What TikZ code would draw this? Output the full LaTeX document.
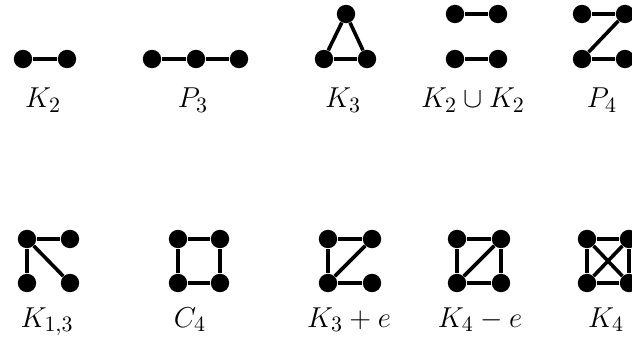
\documentclass[tikz,border=0pt]{standalone}
\usepackage{amsmath}
\usepackage{amssymb}
\usetikzlibrary{positioning}

\begin{document}
\begin{tikzpicture}[x=0.5pt, y=-0.5pt,
        dot/.style={circle, fill=black, inner sep=0pt, minimum size=9.2pt},
        edge/.style={line width=1.8pt},
        lab/.style={anchor=base, inner sep=0pt, font=\fontsize{15.5}{18}\selectfont}
    ]

    \useasboundingbox (0,0) rectangle (632,342);

    % top row
    \node[dot] (k2a) at ( 23, 59) {};
    \node[dot] (k2b) at ( 67, 59) {};
    \node[lab] at (43,108) {$K_2$};
    \draw[edge] (k2a) -- (k2b);

    \node[dot] (p3a) at (152, 59) {};
    \node[dot] (p3b) at (196, 59) {};
    \node[dot] (p3c) at (239, 59) {};
    \node[lab] at (193,108) {$P_3$};
    \draw[edge] (p3a) -- (p3b);
    \draw[edge] (p3b) -- (p3c);

    \node[dot] (k3a) at (346, 14) {};
    \node[dot] (k3b) at (324, 59) {};
    \node[dot] (k3c) at (367, 59) {};
    \node[lab] at (343,108) {$K_3$};
    \draw[edge] (k3a) -- (k3b);
    \draw[edge] (k3b) -- (k3c);
    \draw[edge] (k3c) -- (k3a);

    \node[dot] (uua) at (455, 14) {};
    \node[dot] (uub) at (498, 14) {};
    \node[dot] (uuc) at (455, 59) {};
    \node[dot] (uud) at (498, 59) {};
    \node[lab] at (473,108) {$K_2 \cup K_2$};
    \draw[edge] (uua) -- (uub);
    \draw[edge] (uuc) -- (uud);

    \node[dot] (p4a) at (582, 14) {};
    \node[dot] (p4b) at (625, 14) {};
    \node[dot] (p4c) at (582, 59) {};
    \node[dot] (p4d) at (625, 59) {};
    \node[lab] at (602,108) {$P_4$};
    \draw[edge] (p4a) -- (p4b);
    \draw[edge] (p4b) -- (p4c);
    \draw[edge] (p4c) -- (p4d);

    % bottom row
    \node[dot] (staa) at ( 27,239) {};
    \node[dot] (stab) at ( 70,239) {};
    \node[dot] (stac) at ( 27,283) {};
    \node[dot] (stad) at ( 70,283) {};
    \node[lab] at (47,327) {$K_{1,3}$};
    \draw[edge] (staa) -- (stab);
    \draw[edge] (staa) -- (stac);
    \draw[edge] (staa) -- (stad);

    \node[dot] (c4a) at (178,239) {};
    \node[dot] (c4b) at (220,239) {};
    \node[dot] (c4c) at (178,283) {};
    \node[dot] (c4d) at (220,283) {};
    \node[lab] at (190,327) {$C_4$};
    \draw[edge] (c4a) -- (c4b);
    \draw[edge] (c4b) -- (c4d);
    \draw[edge] (c4d) -- (c4c);
    \draw[edge] (c4c) -- (c4a);

    \node[dot] (pawa) at (328,239) {};
    \node[dot] (pawb) at (372,239) {};
    \node[dot] (pawc) at (328,283) {};
    \node[dot] (pawd) at (372,283) {};
    \node[lab] at (349,327) {$K_3 + e$};
    \draw[edge] (pawa) -- (pawb);
    \draw[edge] (pawb) -- (pawc);
    \draw[edge] (pawa) -- (pawc);
    \draw[edge] (pawc) -- (pawd);

    \node[dot] (dia) at (457,239) {};
    \node[dot] (dib) at (501,239) {};
    \node[dot] (dic) at (457,283) {};
    \node[dot] (did) at (501,283) {};
    \node[lab] at (480,327) {$K_4 - e$};
    \draw[edge] (dia) -- (dib);
    \draw[edge] (dib) -- (did);
    \draw[edge] (did) -- (dic);
    \draw[edge] (dic) -- (dia);
    \draw[edge] (dic) -- (dib);

    \node[dot] (k4a) at (587,239) {};
    \node[dot] (k4b) at (629,239) {};
    \node[dot] (k4c) at (587,283) {};
    \node[dot] (k4d) at (629,283) {};
    \node[lab] at (606,327) {$K_4$};
    \draw[edge] (k4a) -- (k4b);
    \draw[edge] (k4b) -- (k4d);
    \draw[edge] (k4d) -- (k4c);
    \draw[edge] (k4c) -- (k4a);
    \draw[edge] (k4a) -- (k4d);
    \draw[edge] (k4b) -- (k4c);

\end{tikzpicture}
\end{document}
